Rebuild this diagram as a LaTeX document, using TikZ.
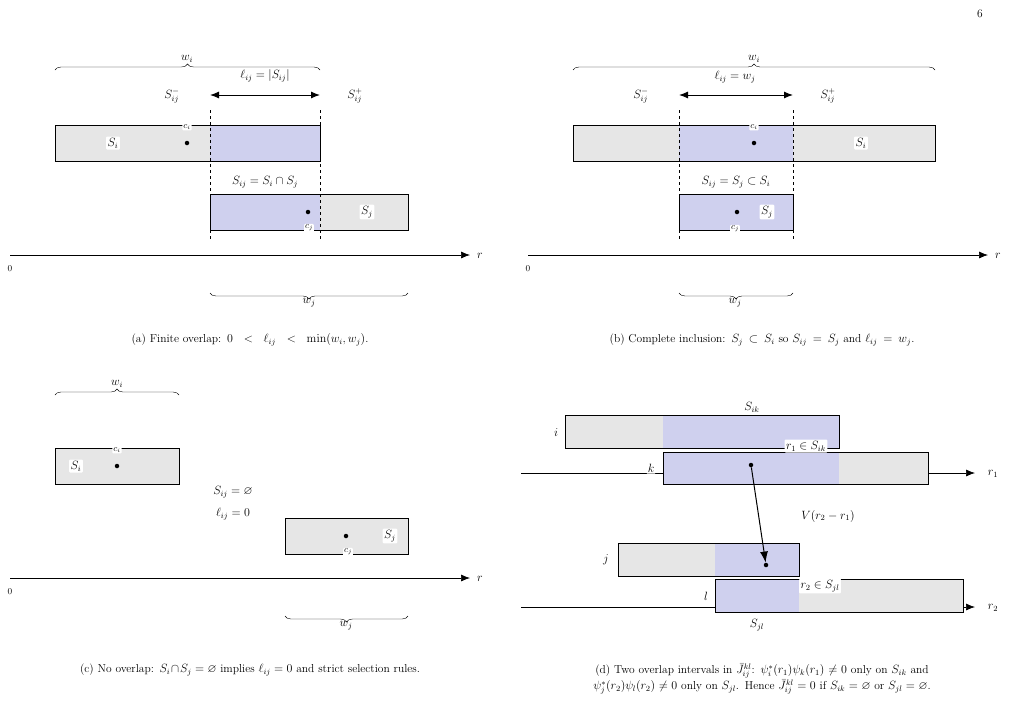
\documentclass[tikz,border=0pt]{standalone}
\usepackage{amssymb}
\usetikzlibrary{decorations.pathreplacing,arrows.meta}
\definecolor{gr}{HTML}{E6E6E6}
\definecolor{bl}{HTML}{CFD0EE}
\begin{document}
\begin{tikzpicture}[x=1pt,y=-1pt,font=\fontsize{11.5}{14}\selectfont,
 box/.style={draw,line width=0.9pt},
 lab/.style={fill=white,rounded corners=1pt,inner sep=1.5pt},
 sm/.style={fill=white,rounded corners=1pt,inner sep=1pt,font=\fontsize{9}{10}\selectfont},
 dot/.style={circle,fill,inner sep=0pt,minimum size=4.5pt},
 ax/.style={-{Latex[length=9pt,width=7pt]},line width=0.7pt},
 bru/.style={decorate,decoration={brace,amplitude=6pt},line width=0.4pt},
 dsh/.style={dashed,line width=0.6pt},
 dbl/.style={{Latex[length=9pt,width=7pt]}-{Latex[length=9pt,width=7pt]},line width=1pt},
 captxt/.style={align=center,text width=340pt}]
\useasboundingbox (0,0) rectangle (1019,721);
\node (pg) at (980,14) {6};
% ---------- (a)
\fill[gr] (55,125) rectangle (210,161); \fill[bl] (210,125) rectangle (320,161);
\draw[box] (55,125) rectangle (320,161);
\fill[bl] (210,194) rectangle (320,230); \fill[gr] (320,194) rectangle (408,230);
\draw[box] (210,194) rectangle (408,230);
\draw[dsh] (210,110) -- (210,240); \draw[dsh] (320,110) -- (320,240);
\node[lab] (aSi) at (113,143) {$S_i$};
\node[dot] (aci) at (187,143) {}; \node[sm] (acil) at (187,127) {$c_i$};
\node[dot] (acj) at (308,212) {}; \node[sm] (acjl) at (309,228) {$c_j$};
\node[lab] (aSj) at (367,212) {$S_j$};
\node (aSij) at (265,182) {$S_{ij}=S_i\cap S_j$};
\coordinate (aL) at (210,95); \coordinate (aR) at (320,95);
\draw[dbl] (aL) -- (aR);
\node (al) at (265,76) {$\ell_{ij}=|S_{ij}|$};
\node (am) at (172,96) {$S^-_{ij}$}; \node (ap) at (355,96) {$S^+_{ij}$};
\coordinate (aw1) at (55,70); \coordinate (aw2) at (320,70);
\draw[bru] (aw1) -- (aw2); \node (awi) at (187,59) {$w_i$};
\coordinate (ax0) at (10,255); \coordinate (ax1) at (470,255);
\draw[ax] (ax0) -- (ax1); \node (ar) at (480,256) {$r$}; \node (a0) at (10,269) {\small 0};
\coordinate (ab1) at (408,293); \coordinate (ab2) at (210,293);
\draw[bru] (ab1) -- (ab2); \node (awj) at (309,303) {$w_j$};
\node[captxt] (ca) at (250,340) {(a) Finite overlap: $0<\ell_{ij}<\min(w_i,w_j)$.};
% ---------- (b)
\fill[gr] (573,125) rectangle (935,161); \fill[bl] (679,125) rectangle (793,161);
\draw[box] (573,125) rectangle (935,161);
\fill[bl] (679,194) rectangle (793,230); \draw[box] (679,194) rectangle (793,230);
\draw[dsh] (679,110) -- (679,240); \draw[dsh] (793,110) -- (793,240);
\node[lab] (bSi) at (861,143) {$S_i$};
\node[dot] (bci) at (754,143) {}; \node[sm] (bcil) at (754,127) {$c_i$};
\node[dot] (bcj) at (737,212) {}; \node[sm] (bcjl) at (735,229) {$c_j$};
\node[lab] (bSj) at (767,212) {$S_j$};
\node (bSij) at (736,182) {$S_{ij}=S_j\subset S_i$};
\coordinate (bL) at (679,95); \coordinate (bR) at (793,95);
\draw[dbl] (bL) -- (bR);
\node (bl) at (735,77) {$\ell_{ij}=w_j$};
\node (bm) at (641,96) {$S^-_{ij}$}; \node (bp) at (828,96) {$S^+_{ij}$};
\coordinate (bw1) at (573,70); \coordinate (bw2) at (935,70);
\draw[bru] (bw1) -- (bw2); \node (bwi) at (754,59) {$w_i$};
\coordinate (bx0) at (528,255); \coordinate (bx1) at (988,255);
\draw[ax] (bx0) -- (bx1); \node (br) at (998,256) {$r$}; \node (b0) at (528,269) {\small 0};
\coordinate (bb1) at (793,293); \coordinate (bb2) at (679,293);
\draw[bru] (bb1) -- (bb2); \node (bwj) at (735,303) {$w_j$};
\node[captxt] (cb) at (762,340) {(b) Complete inclusion: $S_j\subset S_i$ so $S_{ij}=S_j$ and $\ell_{ij}=w_j$.};
% ---------- (c)
\draw[box,fill=gr] (55,448) rectangle (179,484);
\draw[box,fill=gr] (285,518) rectangle (408,554);
\node[lab] (cSi) at (76,466) {$S_i$};
\node[dot] (cci) at (117,466) {}; \node[sm] (ccil) at (117,450) {$c_i$};
\node[dot] (ccj) at (346,536) {}; \node[sm] (ccjl) at (348,552) {$c_j$};
\node[lab] (cSj) at (390,536) {$S_j$};
\node (ce) at (233,492) {$S_{ij}=\varnothing$};
\node (cz) at (233,514) {$\ell_{ij}=0$};
\coordinate (cw1) at (55,395); \coordinate (cw2) at (179,395);
\draw[bru] (cw1) -- (cw2); \node (cwi) at (117,384) {$w_i$};
\coordinate (cx0) at (10,578); \coordinate (cx1) at (470,578);
\draw[ax] (cx0) -- (cx1); \node (cr) at (480,579) {$r$}; \node (c0) at (10,592) {\small 0};
\coordinate (cb1) at (408,616); \coordinate (cb2) at (285,616);
\draw[bru] (cb1) -- (cb2); \node (cwj) at (346,626) {$w_j$};
\node[captxt] (cc) at (250,670) {(c) No overlap: $S_i\cap S_j=\varnothing$ implies $\ell_{ij}=0$ and strict selection rules.};
% ---------- (d)
\coordinate (d10) at (521,473); \coordinate (d11) at (975,473);
\draw[ax] (d10) -- (d11); \node (dr1) at (993,474) {$r_1$};
\coordinate (d20) at (521,607); \coordinate (d21) at (975,607);
\draw[ax] (d20) -- (d21); \node (dr2) at (993,608) {$r_2$};
\fill[gr] (565,415) rectangle (663,448); \fill[bl] (663,415) rectangle (839,448);
\draw[box] (565,415) rectangle (839,448);
\fill[bl] (663,452) rectangle (839,484); \fill[gr] (839,452) rectangle (928,484);
\draw[box] (663,452) rectangle (928,484);
\fill[gr] (618,543) rectangle (715,576); \fill[bl] (715,543) rectangle (799,576);
\draw[box] (618,543) rectangle (799,576);
\fill[bl] (715,579) rectangle (799,612); \fill[gr] (799,579) rectangle (963,612);
\draw[box] (715,579) rectangle (963,612);
\node[lab] (dSik) at (752,407) {$S_{ik}$};
\node (di) at (556,433) {$i$};
\node[lab] (dk) at (651,468) {$k$};
\node (dj) at (606,560) {$j$};
\node (dl) at (706,596) {$l$};
\node[lab] (dr1S) at (806,446) {$r_1\in S_{ik}$};
\node[lab] (dr2S) at (820,586) {$r_2\in S_{jl}$};
\node (dSjl) at (757,625) {$S_{jl}$};
\node (dV) at (828,516) {$V(r_2-r_1)$};
\node[dot] (p1) at (751,465) {};
\node[dot] (p2) at (766,565) {};
\draw[-{Latex[length=11pt,width=8pt]},line width=1pt] (p1) -- (p2);
\node[captxt] (cd) at (762,679) {(d) Two overlap intervals in $\bar J^{kl}_{ij}$: $\psi_i^*(r_1)\psi_k(r_1)\neq0$ only on $S_{ik}$ and $\psi_j^*(r_2)\psi_l(r_2)\neq0$ only on $S_{jl}$. Hence $\bar J^{kl}_{ij}=0$ if $S_{ik}=\varnothing$ or $S_{jl}=\varnothing$.};
\end{tikzpicture}
\end{document}
